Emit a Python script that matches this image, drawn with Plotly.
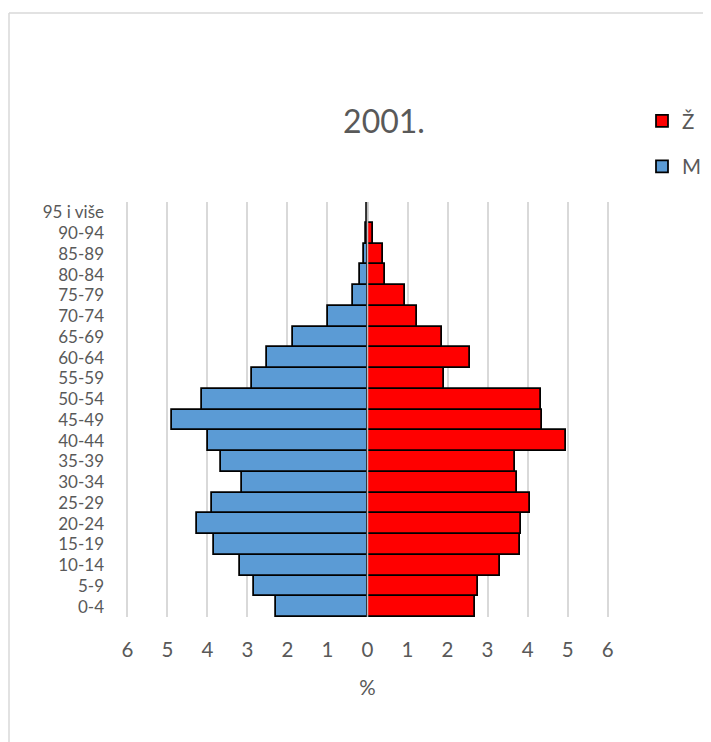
import plotly.graph_objects as go

# 20 age groups, bottom to top
categories = ["0-4", "5-9", "10-14", "15-19", "20-24", "25-29", "30-34", "35-39",
              "40-44", "45-49", "50-54", "55-59", "60-64", "65-69", "70-74",
              "75-79", "80-84", "85-89", "90-94", "95 i više"]

male_pct = [2.29, 2.83, 3.18, 3.83, 4.25, 3.89, 3.13, 3.66, 3.99, 4.88,
            4.14, 2.88, 2.50, 1.85, 0.98, 0.37, 0.18, 0.10, 0.04, 0.01]
female_pct = [2.69, 2.76, 3.31, 3.80, 3.84, 4.07, 3.74, 3.68, 4.97, 4.37,
              4.34, 1.92, 2.55, 1.87, 1.23, 0.94, 0.44, 0.39, 0.13, 0.02]

tick_vals = [-6, -5, -4, -3, -2, -1, 0, 1, 2, 3, 4, 5, 6]
tick_text = ["6", "5", "4", "3", "2", "1", "0", "1", "2", "3", "4", "5", "6"]

FONT = "Lato"
GREY = "#595959"
OFF = 8  # page body margin

fig = go.Figure()
fig.add_trace(go.Bar(
    y=categories, x=[-v for v in male_pct], orientation="h", name="M",
    legendrank=2, legendgroup="m",
    marker=dict(color="#5b9bd5", line=dict(color="black", width=1.75)),
))
fig.add_trace(go.Bar(
    y=categories, x=female_pct, orientation="h", name="Ž",
    legendrank=1, legendgroup="z",
    marker=dict(color="#ff0000", line=dict(color="black", width=1.75)),
))

W, H = 711 - OFF, 742 - OFF
L, R, T, B = 117, 101, 194, 125
pw, ph = W - L - R, H - T - B

def px_x(p):  # page pixel -> paper
    return (p - OFF - L) / pw

def px_y(p):
    return (H - B - (p - OFF)) / ph

fig.update_layout(
    width=W, height=H,
    margin=dict(l=L, r=R, t=T, b=B, autoexpand=False),
    paper_bgcolor="white", plot_bgcolor="white",
    barmode="relative", bargap=0,
    font=dict(family=FONT, color=GREY, size=20.5),
    title=dict(text="2001.", x=376 / W, xref="container", xanchor="center",
               y=1 - 113.5 / H, yref="container", yanchor="middle",
               font=dict(size=32, color=GREY, family=FONT)),
    showlegend=True,
    legend=dict(x=px_x(642), y=px_y(101), xanchor="left", yanchor="top",
                traceorder="grouped", tracegroupgap=16,
                font=dict(size=20.5, color=GREY, family=FONT),
                bgcolor="rgba(0,0,0,0)", itemwidth=30),
    xaxis=dict(range=[-6.06, 6.06], tickvals=tick_vals, ticktext=tick_text,
               showgrid=True, gridcolor="#d9d9d9", gridwidth=1.5,
               zeroline=False, showline=False, ticks="",
               ticklabelstandoff=18, automargin=False,
               title=dict(text="%", standoff=21,
                          font=dict(size=20.5, color=GREY, family=FONT)),
               fixedrange=True),
    yaxis=dict(type="category", categoryorder="array", categoryarray=categories,
               tickmode="array", tickvals=categories, ticktext=categories,
               tickfont=dict(size=17, color=GREY, family=FONT),
               showgrid=False, zeroline=False, showline=False, ticks="",
               ticklabelstandoff=20, automargin=False, fixedrange=True),
    shapes=[
        dict(type="line", xref="x", yref="paper", x0=0, x1=0, y0=0, y1=1,
             line=dict(color="#bfbfbf", width=1.5), layer="above"),
        dict(type="line", xref="paper", yref="paper",
             x0=px_x(9), x1=px_x(711), y0=px_y(13), y1=px_y(13),
             line=dict(color="#d9d9d9", width=1.5)),
        dict(type="line", xref="paper", yref="paper",
             x0=px_x(9), x1=px_x(9), y0=px_y(13), y1=px_y(742),
             line=dict(color="#d9d9d9", width=1.5)),
    ],
)

fig.write_html("out.html")
